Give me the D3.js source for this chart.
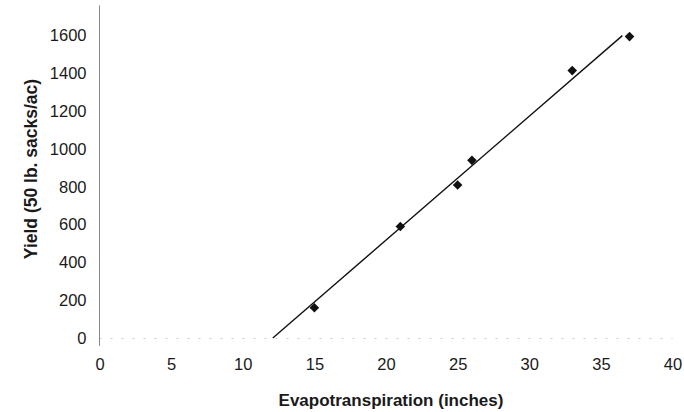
<!DOCTYPE html>
<html>
<head>
<meta charset="utf-8">
<script src="https://cdn.jsdelivr.net/npm/d3@7"></script>
<style>
    body { margin: 0; background: #fff; }
    svg { font-family: "Liberation Sans", Arial, sans-serif; }
</style>
</head>
<body>
<svg id="chart" width="684" height="412"></svg>
<script>
// observed points
const evapo = [15, 21, 25, 26, 33, 37]
const yieldVals = [160, 590, 810, 940, 1415, 1595]
// fitted line end points
const fitX = [12.1, 36.5]
const fitY = [0, 1600]
const xTicks = [0, 5, 10, 15, 20, 25, 30, 35, 40]
const yTicks = [0, 200, 400, 600, 800, 1000, 1200, 1400, 1600]

const svg = d3.select("#chart")
const margins = { left: 99.5, right: 11.5, top: 5.4, bottom: 74 }
const svgWidth = 684
const svgHeight = 412

const xScale = d3.scaleLinear()
    .domain([0, 40])
    .range([margins.left, svgWidth - margins.right])
const yScale = d3.scaleLinear()
    .domain([0, 1760])
    .range([svgHeight - margins.bottom, margins.top])

// faint x baseline
svg.append("line")
    .attr("x1", xScale(0))
    .attr("x2", xScale(40))
    .attr("y1", yScale(0) + 0.5)
    .attr("y2", yScale(0) + 0.5)
    .attr("stroke", "#ccc")
    .attr("stroke-width", 1)
    .attr("stroke-dasharray", "2,9")

// y axis line
svg.append("line")
    .attr("x1", xScale(0))
    .attr("x2", xScale(0))
    .attr("y1", yScale(1760))
    .attr("y2", yScale(0) + 8)
    .attr("stroke", "#8a8a8a")
    .attr("stroke-width", 1)

const yAxis = svg.append("g")
    .attr("transform", `translate(${xScale(0)},0)`)
    .call(d3.axisLeft(yScale).tickValues(yTicks).tickFormat(d3.format("d")).tickSize(0).tickPadding(13))
yAxis.select(".domain").remove()
yAxis.selectAll("text")
    .attr("font-size", 16.5)
    .attr("font-family", "Liberation Sans, Arial, sans-serif")
    .attr("fill", "#1a1a1a")

const xAxis = svg.append("g")
    .attr("transform", `translate(0,${yScale(0)})`)
    .call(d3.axisBottom(xScale).tickValues(xTicks).tickSize(0).tickPadding(20))
xAxis.select(".domain").remove()
xAxis.selectAll("text")
    .attr("font-size", 16.5)
    .attr("font-family", "Liberation Sans, Arial, sans-serif")
    .attr("fill", "#1a1a1a")

// fitted line
const fitLine = d3.line()
    .x((d, i) => xScale(fitX[i]))
    .y((d) => yScale(d))
svg.append("path")
    .attr("d", fitLine(fitY))
    .attr("fill", "none")
    .attr("stroke", "#111")
    .attr("stroke-width", 1.4)

// diamond markers
svg.append("g")
    .selectAll("path")
    .data(yieldVals)
    .enter()
    .append("path")
    .attr("d", d3.symbol().type(d3.symbolSquare).size(46))
    .attr("transform", (d, i) => `translate(${xScale(evapo[i])},${yScale(d)}) rotate(45)`)
    .attr("fill", "#111")

// axis titles
svg.append("text")
    .attr("x", 391)
    .attr("y", 406)
    .attr("text-anchor", "middle")
    .attr("font-size", 17)
    .attr("font-weight", "bold")
    .attr("fill", "#1a1a1a")
    .text("Evapotranspiration (inches)")

svg.append("text")
    .attr("transform", "translate(37,169) rotate(-90)")
    .attr("text-anchor", "middle")
    .attr("font-size", 17.5)
    .attr("font-weight", "bold")
    .attr("fill", "#1a1a1a")
    .text("Yield (50 lb. sacks/ac)")
</script>
</body>
</html>
